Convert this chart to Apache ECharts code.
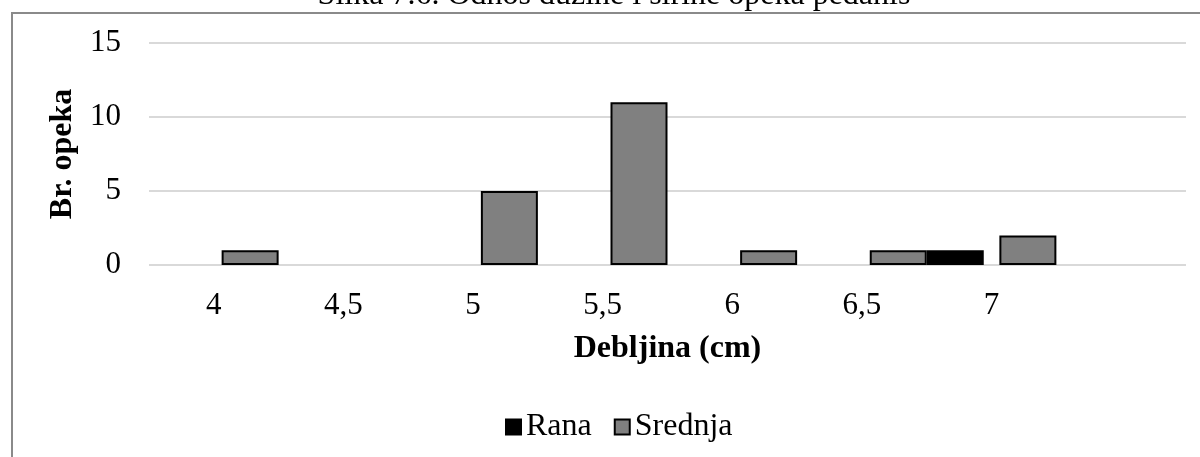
<!DOCTYPE html>
<html>
<head>
<meta charset="utf-8">
<script src="https://cdn.jsdelivr.net/npm/echarts@6/dist/echarts.min.js"></script>
<style>
html,body{margin:0;padding:0;background:#fff;}
#chart{width:1200px;height:457px;}
</style>
</head>
<body>
<div id="chart"></div>
<script>
// Data
var categories = ['4', '4,5', '5', '5,5', '6', '6,5', '7', ''];
var ranaValues = [0, 0, 0, 0, 0, 1, 0, 0];
var srednjaValues = [1, 0, 5, 11, 1, 1, 2, 0];
var yTicks = [0, 5, 10, 15];
var chartTitle = 'Slika 7.6. Odnos dužine i širine opeka pedanis';
var xTitle = 'Debljina (cm)';
var yTitle = 'Br. opeka';
var seriesNames = ['Rana', 'Srednja'];

var FONT = '"Liberation Serif", "Times New Roman", serif';
var chart = echarts.init(document.getElementById('chart'), null, {renderer: 'canvas'});

function hideZero(arr) { return arr.map(function (v) { return v === 0 ? null : v; }); }

var gridTop = 43, gridBottom = 192, gridLeft = 149, gridWidth = 1037;
var band = gridWidth / categories.length;

var option = {
  animation: false,
  backgroundColor: '#ffffff',
  graphic: [
    {type: 'rect', shape: {x: 12, y: 13, width: 1400, height: 600},
     style: {fill: 'none', stroke: '#8a8a8a', lineWidth: 2}, silent: true, z: -10},
    {type: 'text', x: 614, y: -4,
     style: {text: chartTitle, fontFamily: FONT, fontSize: 32, fill: '#000',
             align: 'center', verticalAlign: 'middle'}}
  ],
  legend: {
    data: seriesNames,
    left: 500, top: 406,
    icon: 'rect', itemWidth: 15, itemHeight: 15, itemGap: 22,
    textStyle: {fontFamily: FONT, fontSize: 32, color: '#000'}
  },
  grid: [
    {left: gridLeft, width: gridWidth, top: gridTop, bottom: gridBottom,
     containLabel: false, outerBoundsMode: 'none'},
    {left: gridLeft + band / 2, width: gridWidth, top: gridTop, bottom: gridBottom,
     containLabel: false, outerBoundsMode: 'none'}
  ],
  xAxis: [
    {type: 'category', gridIndex: 0, data: categories,
     axisLine: {show: false}, axisTick: {show: false},
     axisLabel: {fontFamily: FONT, fontSize: 31, color: '#000', margin: 25, interval: 0},
     name: xTitle, nameLocation: 'middle', nameGap: 68,
     nameTextStyle: {fontFamily: FONT, fontSize: 32, fontWeight: 'bold', color: '#000'}},
    {type: 'category', gridIndex: 1, data: categories, show: false}
  ],
  yAxis: [
    {type: 'value', gridIndex: 0, min: yTicks[0], max: yTicks[yTicks.length - 1], interval: 5,
     axisLine: {show: false}, axisTick: {show: false},
     splitLine: {show: true, lineStyle: {color: '#d9d9d9', width: 2}},
     axisLabel: {fontFamily: FONT, fontSize: 31, color: '#000', margin: 28},
     name: yTitle, nameLocation: 'middle', nameGap: 68, nameRotate: 90,
     nameTextStyle: {fontFamily: FONT, fontSize: 32, fontWeight: 'bold', color: '#000'}},
    {type: 'value', gridIndex: 1, min: yTicks[0], max: yTicks[yTicks.length - 1], interval: 5, show: false}
  ],
  series: [
    {name: 'Srednja', type: 'bar', xAxisIndex: 1, yAxisIndex: 1,
     data: hideZero(srednjaValues), barWidth: 57, barGap: '0%',
     itemStyle: {color: '#808080', borderColor: '#000', borderWidth: 2}},
    {name: 'Rana', type: 'bar', xAxisIndex: 1, yAxisIndex: 1,
     data: hideZero(ranaValues), barWidth: 57, barGap: '0%',
     itemStyle: {color: '#000000', borderColor: '#000', borderWidth: 2}}
  ]
};
chart.setOption(option);
</script>
</body>
</html>
